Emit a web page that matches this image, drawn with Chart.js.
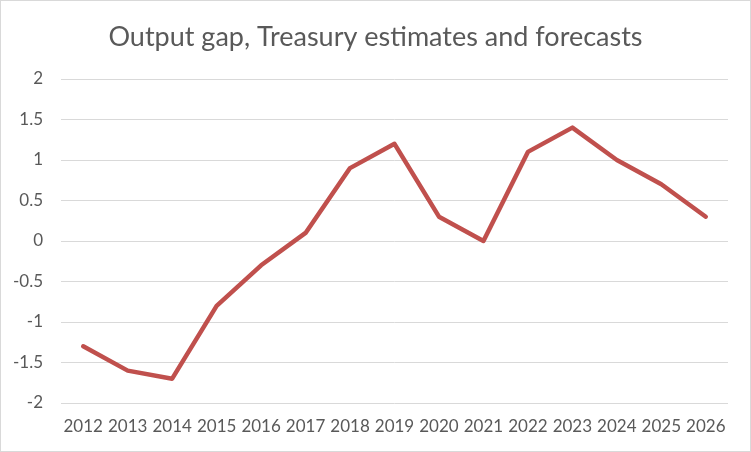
<!DOCTYPE html>
<html>
<head>
<meta charset="utf-8">
<script src="https://cdn.jsdelivr.net/npm/chart.js@4"></script>
<style>
html,body{margin:0;padding:0;background:#fff;}
#wrap{width:751px;height:452px;position:relative;}
</style>
</head>
<body>
<div id="wrap"><canvas id="c" width="751" height="452"></canvas></div>
<script>
const titleText = "Output gap, Treasury estimates and forecasts";
const years = ["2012","2013","2014","2015","2016","2017","2018","2019","2020","2021","2022","2023","2024","2025","2026"];
const outputGap = [-1.3,-1.6,-1.7,-0.8,-0.3,0.1,0.9,1.2,0.3,0,1.1,1.4,1.0,0.7,0.3];
const yMin = -2, yMax = 2, yStep = 0.5;

const bgBorder = {
  id: 'bgBorder',
  beforeDraw(chart) {
    const ctx = chart.ctx;
    ctx.save();
    ctx.fillStyle = '#ffffff';
    ctx.fillRect(0, 0, chart.width, chart.height);
    ctx.strokeStyle = '#D9D9D9';
    ctx.lineWidth = 1;
    ctx.strokeRect(0.5, 0.5, chart.width - 1, chart.height - 1);
    ctx.restore();
  }
};

new Chart(document.getElementById('c'), {
  type: 'line',
  data: {
    labels: years,
    datasets: [{
      label: 'Output gap',
      data: outputGap,
      borderColor: '#C0504D',
      backgroundColor: '#C0504D',
      borderWidth: 4.5,
      pointRadius: 0,
      tension: 0,
      borderCapStyle: 'round',
      borderJoinStyle: 'round',
      fill: false,
      yAxisID: 'y'
    }]
  },
  options: {
    responsive: false,
    animation: false,
    devicePixelRatio: 1,
    layout: { padding: { left: 0, right: 0, top: 0, bottom: 0 } },
    plugins: {
      legend: { display: false },
      tooltip: { enabled: false },
      title: {
        display: true,
        text: titleText,
        color: '#595959',
        font: { family: 'Lato', size: 27, weight: 'normal', lineHeight: 1.2 },
        padding: { top: 21, bottom: 25.6 }
      }
    },
    scales: {
      x: {
        type: 'category',
        offset: true,
        grid: { display: false, drawTicks: false },
        border: { display: false },
        ticks: {
          color: '#595959',
          font: { family: 'Lato', size: 17 },
          padding: 13,
          maxRotation: 0,
          autoSkip: false
        },
        afterFit(scale) { scale.height = 49; }
      },
      y: {
        min: yMin,
        max: yMax,
        grid: { color: '#D9D9D9', lineWidth: 1, drawTicks: false },
        border: { display: false },
        ticks: {
          stepSize: yStep,
          color: '#595959',
          font: { family: 'Lato', size: 17 },
          padding: 18,
          callback: (v) => String(Math.round(v * 10) / 10)
        },
        afterFit(scale) { scale.width = 61; }
      },
      yRight: {
        position: 'right',
        min: yMin,
        max: yMax,
        grid: { display: false, drawTicks: false },
        border: { display: false },
        ticks: { display: false },
        afterFit(scale) { scale.width = 23; }
      }
    }
  },
  plugins: [bgBorder]
});
</script>
</body>
</html>
